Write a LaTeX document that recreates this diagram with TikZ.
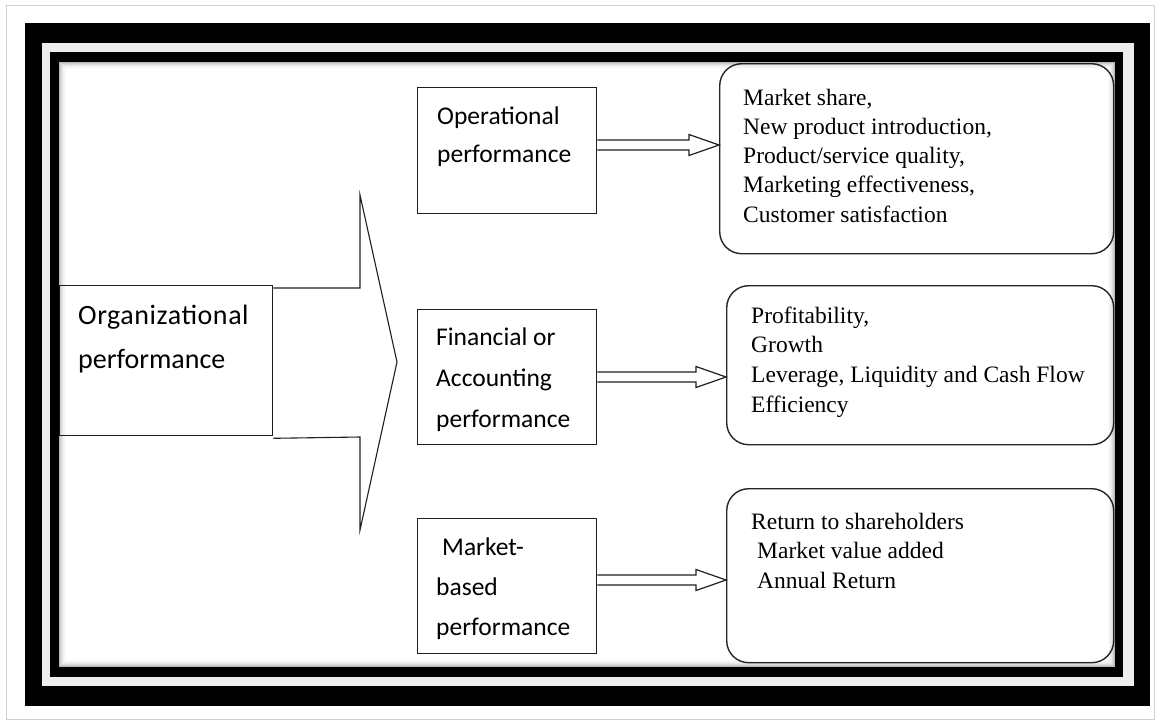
\documentclass[tikz,border=0pt]{standalone}
\usepackage{fontspec}
\usetikzlibrary{calc}
\newfontfamily\calfont{Carlito}
\newfontfamily\timesfont{Liberation Serif}

% block arrow with a double shaft: #1 = start point, #2 = tip
\newcommand\flowarrow[2]{%
  \draw[blk] ($(#1)+(0,-5)$) -- ($(#2)+(-30,-5)$) -- ($(#2)+(-30,-10.5)$)
    -- (#2) -- ($(#2)+(-30,10.5)$) -- ($(#2)+(-30,5)$) -- ($(#1)+(0,5)$);}

\begin{document}
\begin{tikzpicture}[x=1pt,y=-1pt,
  box/.style={draw=black!88, line width=1.3pt, fill=white, inner sep=0pt, anchor=north west},
  rbox/.style={draw=black!85, line width=1.4pt, fill=white, rounded corners=22pt, inner sep=0pt, anchor=north west},
  lbl/.style={anchor=base west, inner sep=0pt, text=black},
  blk/.style={draw=black!88, line width=1.2pt, fill=white, line join=miter},
  bigarrow/.style={draw=black!88, line width=1.1pt, line join=miter},
]
\useasboundingbox (0,0) rectangle (1159,721);

% picture frame
\fill[white] (0,0) rectangle (1159,721);
\draw[black!18, line width=0.8pt] (6,5) rectangle (1154,719);
\fill[black] (25,23) rectangle (1150,706);
\fill[black!7] (42,43) rectangle (1134,686);
\fill[black] (50,52) rectangle (1123,677);
\fill[white] (59,62) rectangle (1115,667);

% left box and the large arrow leaving it
\node[box, minimum width=213pt, minimum height=150pt] (org) at (59,285) {};
\draw[bigarrow] ($(org.north east)+(0,3)$) -- (360,288) -- (360,195) -- (397,362)
  -- (360,530) -- (360,437) -- ($(org.south east)+(0,2)$);
\node[lbl] (orgtxt) at (78,324) {\calfont\fontsize{28}{44}\selectfont
  \begin{tabular}[t]{@{}l@{}}{\addfontfeature{LetterSpace=2}Organizational}\\performance\end{tabular}};

% middle boxes
\node[box, minimum width=179pt, minimum height=126pt] (op)  at (417,87)  {};
\node[box, minimum width=179pt, minimum height=135pt] (fin) at (417,309) {};
\node[box, minimum width=179pt, minimum height=135pt] (mkt) at (417,518) {};

\node[lbl] (optxt) at (437,124) {\calfont\fontsize{25.5}{38}\selectfont
  \begin{tabular}[t]{@{}l@{}}Operational\\performance\end{tabular}};
\node[lbl] (fintxt) at (436,345) {\calfont\fontsize{25.5}{41}\selectfont
  \begin{tabular}[t]{@{}l@{}}Financial or\\Accounting\\performance\end{tabular}};
\node[lbl] (mkttxt) at (436,555) {\calfont\fontsize{25.5}{40}\selectfont
  \begin{tabular}[t]{@{}l@{}}\hspace{6pt}Market-\\based\\performance\end{tabular}};

% right boxes
\node[rbox, minimum width=394pt, minimum height=190pt] (ra) at (719,63)  {};
\node[rbox, minimum width=387pt, minimum height=159pt] (rb) at (726,285) {};
\node[rbox, minimum width=387pt, minimum height=174pt] (rc) at (726,488) {};

\node[lbl] (ratxt) at (743,105) {\timesfont\fontsize{23.5}{29.25}\selectfont
  \begin{tabular}[t]{@{}l@{}}Market share,\\New product introduction,\\Product/service quality,\\Marketing effectiveness,\\Customer satisfaction\end{tabular}};
\node[lbl] (rbtxt) at (751,323) {\timesfont\fontsize{23.5}{29.7}\selectfont
  \begin{tabular}[t]{@{}l@{}}Profitability,\\Growth\\Leverage, Liquidity and Cash Flow\\Efficiency\end{tabular}};
\node[lbl] (rctxt) at (751,529) {\timesfont\fontsize{23.5}{29.5}\selectfont
  \begin{tabular}[t]{@{}l@{}}Return to shareholders\\\hspace{6pt}Market value added\\\hspace{6pt}Annual Return\end{tabular}};

% connectors
\coordinate (y1) at (0,145);
\coordinate (y2) at (0,377);
\coordinate (y3) at (0,580);
\flowarrow{op.east|-y1}{ra.west|-y1}
\flowarrow{fin.east|-y2}{rb.west|-y2}
\flowarrow{mkt.east|-y3}{rc.west|-y3}

% soft inner shadow of the frame
\foreach \i/\o in {1/0.28,2/0.2,3/0.14,4/0.09,5/0.06,6/0.035,7/0.02}
  \draw[black, opacity=\o, line width=1pt]
    (59+\i-0.5,62+\i-0.5) rectangle (1115-\i+0.5,667-\i+0.5);
\end{tikzpicture}
\end{document}
